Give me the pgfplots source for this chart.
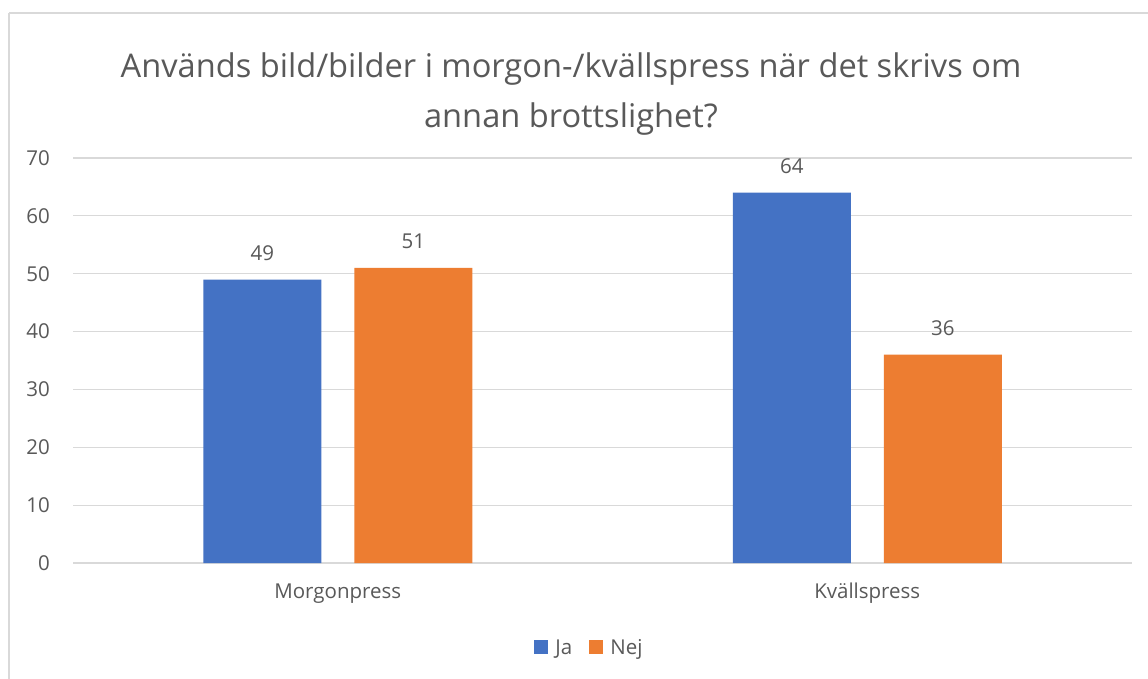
\documentclass[border=0pt]{standalone}
\usepackage{fontspec}
\setmainfont{Open Sans}
\usepackage{pgfplots}
\pgfplotsset{compat=1.18}
\definecolor{cblue}{HTML}{4472C4}
\definecolor{corange}{HTML}{ED7D31}
\definecolor{cgrid}{HTML}{D9D9D9}
\definecolor{ctext}{HTML}{595959}
\begin{document}
\begin{tikzpicture}[x=1pt,y=1pt]
\useasboundingbox (0,0) rectangle (1148,678);
\clip (0,0) rectangle (1148,678);
\fill[white] (0,0) rectangle (1148,678);
\draw[cgrid,line width=1.5pt] (9,665) -- (1160,665) (9,665) -- (9,-10);
\node[text=ctext,align=center,font=\fontsize{32.6}{50}\selectfont] at (571,584)
  {Används bild/bilder i morgon-/kvällspress när det skrivs om\\annan brottslighet?};
\begin{axis}[
  at={(73pt,115pt)}, anchor=south west,
  scale only axis, width=1059pt, height=405pt,
  xmin=-0.5, xmax=1.5, ymin=0, ymax=70,
  ybar, bar width=118pt,
  axis line style={draw=none},
  major tick length=0pt,
  /pgf/number format/assume math mode=true,
  ytick={0,10,...,70},
  xtick={0,1}, xticklabels={Morgonpress,Kvällspress},
  ymajorgrids, grid style={cgrid,line width=1.2pt},
  tick label style={text=ctext,font=\fontsize{20.5}{24}\selectfont},
  yticklabel style={anchor=east,inner sep=0pt,xshift=-23pt},
  xticklabel style={anchor=base,inner sep=0pt,yshift=-35pt},
  nodes near coords,
  every node near coord/.append style={text=ctext,font=\fontsize{20.5}{24}\selectfont,anchor=base,inner sep=0pt,yshift=19pt},
  legend columns=-1,
  legend style={draw=none,fill=none,inner sep=0pt,at={(0.4877,-0.21)},anchor=center,
    font=\fontsize{20.5}{24}\selectfont,text=ctext,
    /tikz/every odd column/.append style={column sep=5pt},
    /tikz/every even column/.append style={column sep=15pt}},
  legend image code/.code={\fill[#1,draw=none] (0pt,-6pt) rectangle (14pt,8pt);},
]
\addplot[fill=cblue,draw=none,bar shift=-75.5pt] coordinates {(0,49) (1,64)};
\addplot[fill=corange,draw=none,bar shift=75.5pt] coordinates {(0,51) (1,36)};
\legend{Ja,Nej}
\end{axis}
\end{tikzpicture}
\end{document}
